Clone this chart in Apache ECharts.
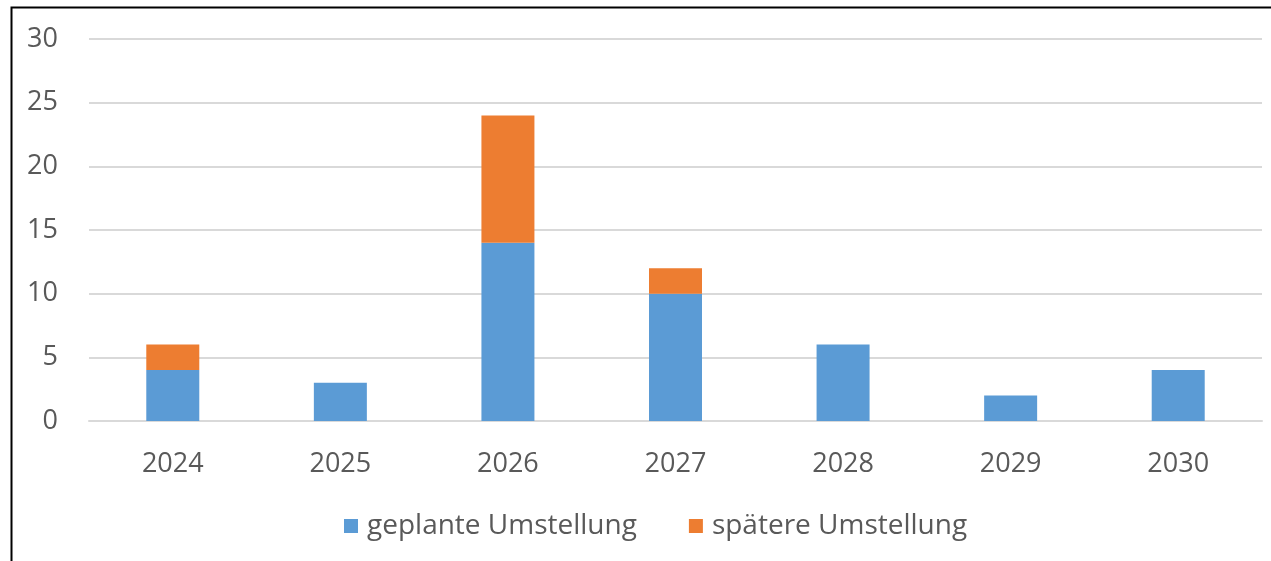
<!DOCTYPE html>
<html><head><meta charset="utf-8">
<script src="https://cdn.jsdelivr.net/npm/echarts@6/dist/echarts.min.js"></script>
<style>html,body{margin:0;padding:0;background:#fff}#c{width:1271px;height:561px}</style>
</head><body><div id="c"></div>
<script>
const categories = ['2024','2025','2026','2027','2028','2029','2030'];
const geplante = [4, 3, 14, 10, 6, 2, 4];
const spaetere = [2, 0, 10, 2, 0, 0, 0];
const seriesNames = ['geplante Umstellung', 'spätere Umstellung'];

const chart = echarts.init(document.getElementById('c'), null, {renderer: 'canvas'});
const font = 'Open Sans';
chart.setOption({
  animation: false,
  backgroundColor: '#fff',
  graphic: [{
    type: 'rect', left: 9, top: 5, z: 100,
    shape: {x: 0, y: 0, width: 1300, height: 600},
    style: {fill: 'none', stroke: '#000', lineWidth: 2}
  }],
  grid: {left: 89, right: 9, top: 39, bottom: 140, containLabel: false},
  legend: {
    bottom: 16, left: 339,
    itemWidth: 14, itemHeight: 14, itemGap: 52,
    icon: 'rect',
    textStyle: {fontFamily: font, fontSize: 28, color: '#595959', padding: [0, 0, 0, 4]},
    data: seriesNames
  },
  xAxis: {
    type: 'category', data: categories,
    axisLine: {lineStyle: {color: '#D9D9D9', width: 2}},
    axisTick: {show: false},
    axisLabel: {fontFamily: font, fontSize: 27, color: '#595959', margin: 30}
  },
  yAxis: {
    type: 'value', min: 0, max: 30, interval: 5,
    axisLine: {show: false}, axisTick: {show: false},
    splitLine: {lineStyle: {color: '#D9D9D9', width: 2}},
    axisLabel: {fontFamily: font, fontSize: 27, color: '#595959', margin: 31}
  },
  series: [
    {name: seriesNames[0], type: 'bar', stack: 's', data: geplante, barWidth: 53, itemStyle: {color: '#5B9BD5'}},
    {name: seriesNames[1], type: 'bar', stack: 's', data: spaetere, barWidth: 53, itemStyle: {color: '#ED7D31'}}
  ]
});
</script></body></html>
